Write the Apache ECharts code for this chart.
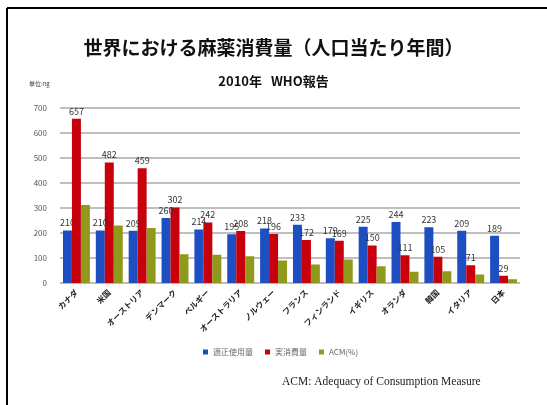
<!DOCTYPE html>
<html><head><meta charset="utf-8">
<script src="https://cdn.jsdelivr.net/npm/echarts@6/dist/echarts.min.js"></script>
<style>html,body{margin:0;padding:0;background:#fff}#c{width:547px;height:405px}</style>
</head><body><div id="c"></div>
<script>
const categories = ['カナダ','米国','オーストリア','デンマーク','ベルギー','オーストラリア','ノルウェー','フランス','フィンランド','イギリス','オランダ','韓国','イタリア','日本'];
const properUse = [210,210,209,260,214,195,218,233,179,225,244,223,209,189];
const actualUse = [657,482,459,302,242,208,196,172,169,150,111,105,71,29];
const acm = [312,230,220,115,113,107,90,74,94,67,45,47,34,15];
const yTicks = {min:0, max:700, interval:100};

const chart = echarts.init(document.getElementById('c'));
const font = '"Noto Sans CJK JP", sans-serif';
const lbl = {show:true, position:'top', fontSize:9, color:'#333', fontFamily:font, distance:3};
chart.setOption({
  animation:false,
  backgroundColor:'#fff',
  title:[
    {text:'世界における麻薬消費量（人口当たり年間）', left:'center', top:33, textStyle:{fontSize:19, fontWeight:'bold', color:'#111', fontFamily:font}},
    {text:'2010年   WHO報告', left:'center', top:70, textStyle:{fontSize:13, fontWeight:'bold', color:'#111', fontFamily:font}},
    {text:'単位:ng', left:24, top:76, textStyle:{fontSize:6, fontWeight:'normal', color:'#444', fontFamily:font}}
  ],
  legend:{bottom:44, left:198, itemWidth:5, itemHeight:5, itemGap:12, icon:'rect',
    textStyle:{fontSize:8, color:'#666', fontFamily:font}},
  grid:{left:60, right:27, top:108, bottom:122},
  xAxis:{type:'category', data:categories,
    axisLine:{show:true, lineStyle:{color:'#bbb'}}, axisTick:{show:false},
    axisLabel:{rotate:45, fontSize:8, fontWeight:'bold', color:'#222', fontFamily:font, interval:0, margin:8}},
  yAxis:{type:'value', min:yTicks.min, max:yTicks.max, interval:yTicks.interval,
    axisLine:{show:false}, axisTick:{show:false},
    axisLabel:{fontSize:8, color:'#555', margin:13, fontFamily:font},
    splitLine:{lineStyle:{color:'#aaa', width:1.5}}},
  series:[
    {name:'適正使用量', type:'bar', data:properUse, itemStyle:{color:'#1d4fc2'}, label:lbl, barGap:'0%', barCategoryGap:'18%'},
    {name:'実消費量', type:'bar', data:actualUse, itemStyle:{color:'#c8000c'}, label:lbl},
    {name:'ACM(%)', type:'bar', data:acm, itemStyle:{color:'#8f9a1d'}}
  ],
  graphic:[
    {type:'line', shape:{x1:7, y1:8, x2:547, y2:8}, style:{stroke:'#000', lineWidth:2}},
    {type:'line', shape:{x1:7, y1:8, x2:7, y2:405}, style:{stroke:'#000', lineWidth:2}},
    {type:'text', left:282, top:376, style:{text:'ACM: Adequacy of Consumption Measure', font:'11.5px "Liberation Serif", serif', fill:'#222'}}
  ]
});
</script></body></html>
